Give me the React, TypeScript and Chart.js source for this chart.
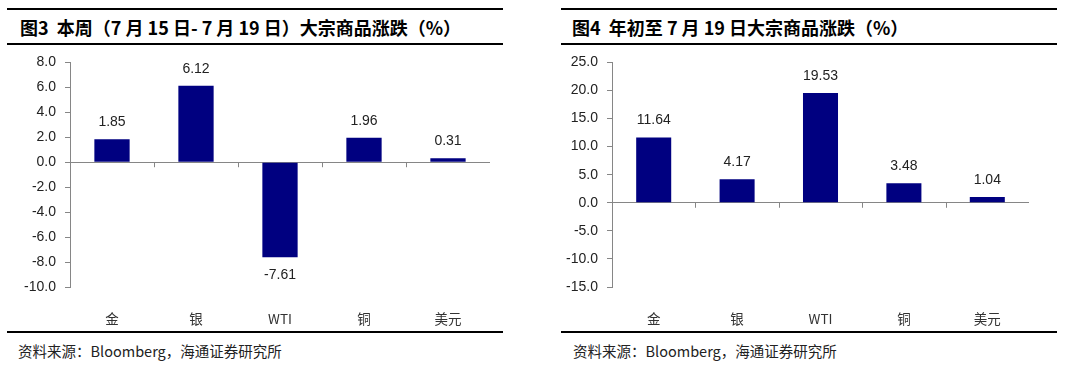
import React, { useEffect, useRef } from "react";
import { Chart, registerables } from "chart.js";

Chart.register(...registerables);

const categories = ["金", "银", "WTI", "铜", "美元"];
const weeklyChange = [1.85, 6.12, -7.61, 1.96, 0.31];
const ytdChange = [11.64, 4.17, 19.53, 3.48, 1.04];
const leftTitle = "图3  本周（7 月 15 日- 7 月 19 日）大宗商品涨跌（%）";
const rightTitle = "图4  年初至 7 月 19 日大宗商品涨跌（%）";
const sourceText = "资料来源：Bloomberg，海通证券研究所";

const BAR = "#000080";
const AXIS = "#868686";
const TEXT = "#222";

const labelPlugin = {
  id: "valLabels",
  afterDatasetsDraw(chart: any) {
    const ctx = chart.ctx;
    const meta = chart.getDatasetMeta(0);
    const data = chart.data.datasets[0].data as number[];
    ctx.save();
    ctx.font = "14px 'Liberation Sans', Arial, sans-serif";
    ctx.fillStyle = TEXT;
    ctx.textAlign = "center";
    ctx.textBaseline = "middle";
    meta.data.forEach((el: any, i: number) => {
      const v = data[i];
      const y = v >= 0 ? el.y - 17 : el.y + 18;
      ctx.fillText(v.toFixed(2), el.x, y);
    });
    // boundary ticks on zero line
    const xs = chart.scales.x;
    const y0 = chart.scales.y.getPixelForValue(0);
    ctx.strokeStyle = AXIS;
    ctx.lineWidth = 1;
    const n = chart.data.labels.length;
    const step = (xs.right - xs.left) / n;
    for (let i = 1; i < n; i++) {
      const x = Math.round(xs.left + step * i) + 0.5;
      ctx.beginPath();
      ctx.moveTo(x, y0);
      ctx.lineTo(x, y0 + 5);
      ctx.stroke();
    }
    ctx.restore();
  },
};

function BarChart(props: { values: number[]; min: number; max: number; step: number; axisW: number; padRight: number }) {
  const ref = useRef<HTMLCanvasElement>(null);
  useEffect(() => {
    const chart = new Chart(ref.current as HTMLCanvasElement, {
      type: "bar",
      data: {
        labels: categories,
        datasets: [
          {
            data: props.values,
            backgroundColor: BAR,
            barPercentage: 0.42,
            categoryPercentage: 1,
          },
        ],
      },
      options: {
        responsive: false,
        animation: false,
        layout: { padding: { top: 14, right: props.padRight, bottom: 0, left: 0 } },
        plugins: { legend: { display: false }, tooltip: { enabled: false } },
        scales: {
          x: {
            grid: { display: false, drawTicks: false },
            border: { display: false },
            ticks: {
              padding: 24,
              color: "#333",
              font: { family: "'Noto Sans CJK SC', 'Liberation Sans', sans-serif", size: 13.5 },
            },
            afterFit: (s: any) => {
              s.height = 43;
            },
          },
          y: {
            min: props.min,
            max: props.max,
            ticks: {
              stepSize: props.step,
              padding: 9,
              color: TEXT,
              font: { family: "'Liberation Sans', Arial, sans-serif", size: 14 },
              callback: (v: any) => Number(v).toFixed(1),
            },
            grid: {
              color: (c: any) => (c.tick && c.tick.value === 0 ? AXIS : "rgba(0,0,0,0)"),
              tickColor: AXIS,
              tickLength: 5,
            },
            border: { display: true, color: AXIS, width: 1 },
            afterFit: (s: any) => {
              s.width = props.axisW;
            },
          },
        },
      },
      plugins: [labelPlugin],
    } as any);
    return () => chart.destroy();
  }, []);
  return <canvas ref={ref} width={540} height={285} style={{ position: "absolute", left: 0, top: 45, width: 540, height: 285 }} />;
}

function Panel(props: { left: number; title: string; lineLeft: number; values: number[]; min: number; max: number; step: number; axisW: number; padRight: number; titleLeft: number; srcLeft: number }) {
  const lineStyle = (top: number): React.CSSProperties => ({
    position: "absolute",
    left: props.lineLeft,
    width: 496,
    top,
    height: 2,
    background: "#000",
  });
  return (
    <div style={{ position: "absolute", left: props.left, top: 0, width: 540, height: 371 }}>
      <div style={lineStyle(8)} />
      <div
        style={{
          position: "absolute",
          left: props.titleLeft,
          top: 14,
          fontFamily: "'Noto Sans CJK SC', 'Liberation Sans', sans-serif",
          fontWeight: 700,
          fontSize: 18,
          lineHeight: "26px",
          color: "#000",
          whiteSpace: "pre",
        }}
      >
        {props.title}
      </div>
      <div style={lineStyle(43)} />
      <BarChart values={props.values} min={props.min} max={props.max} step={props.step} axisW={props.axisW} padRight={props.padRight} />
      <div style={lineStyle(331)} />
      <div
        style={{
          position: "absolute",
          left: props.srcLeft,
          top: 341,
          fontFamily: "'Noto Sans CJK SC', 'Liberation Sans', sans-serif",
          fontSize: 14.5,
          lineHeight: "20px",
          color: "#222",
          whiteSpace: "pre",
        }}
      >
        {sourceText}
      </div>
    </div>
  );
}

export default function App() {
  useEffect(() => {
    document.body.style.margin = "0";
  }, []);
  return (
    <div style={{ position: "fixed", left: 0, top: 0, width: 1080, height: 371, background: "#fff", overflow: "hidden" }}>
      <Panel left={0} title={leftTitle} lineLeft={7} titleLeft={20} srcLeft={18} values={weeklyChange} min={-10} max={8} step={2} axisW={70} padRight={50} />
      <Panel left={540} title={rightTitle} lineLeft={21} titleLeft={32} srcLeft={33} values={ytdChange} min={-15} max={25} step={5} axisW={72} padRight={51} />
    </div>
  );
}
